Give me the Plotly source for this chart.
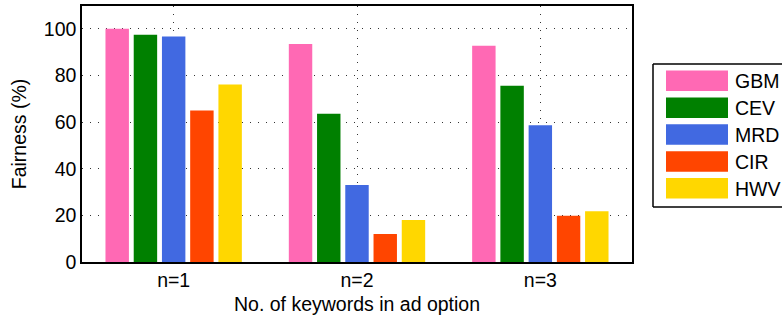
import plotly.graph_objects as go

categories = ["n=1", "n=2", "n=3"]
series_names = ["GBM", "CEV", "MRD", "CIR", "HWV"]
GBM = [100.0, 93.5, 92.8]
CEV = [97.5, 63.6, 75.6]
MRD = [96.7, 33.0, 58.6]
CIR = [65.0, 12.0, 19.8]
HWV = [76.1, 18.0, 21.8]
series_values = [GBM, CEV, MRD, CIR, HWV]
colors = ["#FF69B4", "#008000", "#4169E1", "#FF4500", "#FFD700"]
y_ticks = [0, 20, 40, 60, 80, 100]

W, H = 782, 316
L, R, T, B = 82, 150, 6, 54
pw, ph = W - L - R, H - T - B
FONT = "Liberation Sans, Arial, sans-serif"
FS = 19.5

fig = go.Figure()
for name, vals, c in zip(series_names, series_values, colors):
    fig.add_trace(go.Bar(x=categories, y=vals, name=name, marker_color=c,
                         marker_line_width=0, showlegend=False))

def px_x(px):
    return (px - L) / pw

def px_y(py):
    return (H - B - py) / ph

shapes = []
annotations = []
# legend box: left, top and bottom edges only (right side runs off the page)
bx0, bx1, by0, by1 = px_x(653), px_x(782), px_y(207), px_y(64)
for (xa, ya, xb, yb) in [(bx0, by0, bx0, by1), (bx0, by1, bx1, by1), (bx0, by0, bx1, by0)]:
    shapes.append(dict(type="line", xref="paper", yref="paper", x0=xa, y0=ya, x1=xb, y1=yb,
                       line=dict(color="black", width=1.5), layer="above"))
row_top = 70.5
pitch = 26.9
for i, (name, c) in enumerate(zip(series_names, colors)):
    top = row_top + i * pitch
    shapes.append(dict(type="rect", xref="paper", yref="paper",
                       x0=px_x(666), x1=px_x(728), y0=px_y(top + 20.5), y1=px_y(top),
                       line=dict(width=0), fillcolor=c, layer="above"))
    annotations.append(dict(xref="paper", yref="paper", x=px_x(733), y=px_y(top + 10.5),
                            text=name, showarrow=False, xanchor="left", yanchor="middle",
                            font=dict(size=FS, color="black", family=FONT)))

fig.update_layout(
    width=W, height=H,
    margin=dict(l=L, r=R, t=T, b=B, autoexpand=False),
    paper_bgcolor="white", plot_bgcolor="white",
    barmode="group", bargap=0.23, bargroupgap=0.17,
    font=dict(family=FONT, size=FS, color="black"),
    shapes=shapes, annotations=annotations,
    xaxis=dict(range=[-0.5, 2.5], showline=True, linecolor="black", linewidth=2,
               mirror=True, showgrid=True, gridcolor="#333", griddash="1px,7px", gridwidth=1,
               ticks="", tickfont=dict(size=FS), automargin=False,
               title=dict(text="No. of keywords in ad option", font=dict(size=FS), standoff=7)),
    yaxis=dict(range=[0, 109.8], showline=True, linecolor="black", linewidth=1.5,
               mirror=True, showgrid=True, gridcolor="#333", griddash="1px,7px", gridwidth=1,
               tickvals=y_ticks, ticks="", tickfont=dict(size=FS), zeroline=False, automargin=False,
               title=dict(text="Fairness (%)", font=dict(size=FS), standoff=12)),
)
fig.write_html("out.html", config={"displayModeBar": False},
               post_script="document.body.style.margin='0px';")
